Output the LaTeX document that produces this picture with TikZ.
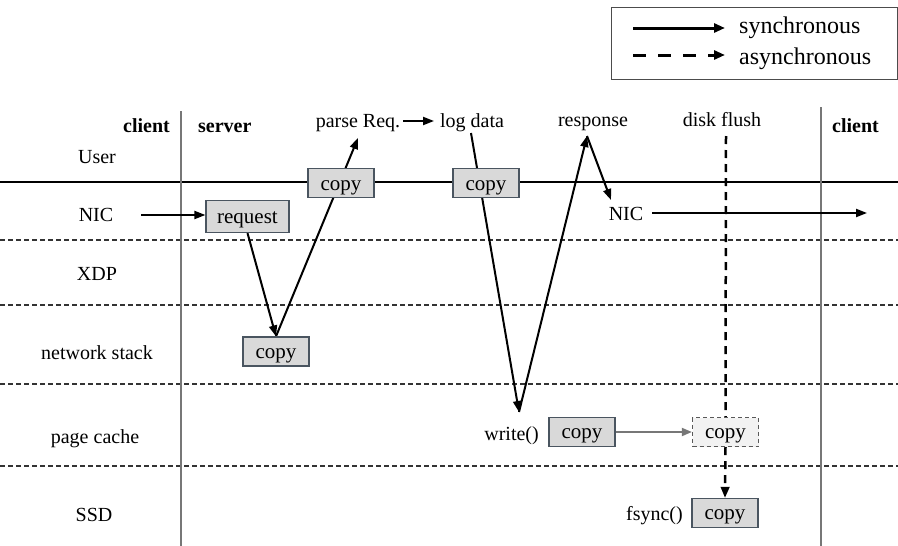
\documentclass[tikz,border=0pt]{standalone}
\usepackage{fontspec}
\setmainfont{Liberation Serif}
\usetikzlibrary{arrows.meta,backgrounds}

\definecolor{boxfill}{HTML}{D9D9D9}
\definecolor{boxedge}{HTML}{4A5560}
\definecolor{sepgray}{HTML}{777777}

\tikzset{
  lbl/.style={font=\fontsize{20}{24}\selectfont, inner sep=0pt, anchor=base},
  lblb/.style={lbl, font=\fontsize{20}{24}\selectfont\bfseries},
  legtext/.style={lbl, anchor=base west, font=\fontsize{24}{28}\selectfont},
  copybox/.style={draw=boxedge, line width=1.2pt, fill=boxfill, minimum width=66pt,
    minimum height=29pt, inner sep=0pt, text height=16pt, text depth=3pt,
    font=\fontsize{21}{25}\selectfont},
  tempbox/.style={copybox, draw=black!65, dash pattern=on 4pt off 3pt, fill=black!5},
  sync/.style={line width=2pt, -{Triangle[length=11pt,width=8pt]}},
  async/.style={line width=2.5pt, dash pattern=on 8pt off 6pt, -{Triangle[length=11pt,width=8.5pt]}},
  layersep/.style={line width=1.1pt, dash pattern=on 5pt off 3pt, black!80},
  colsep/.style={line width=2pt, sepgray},
}

\begin{document}
\begin{tikzpicture}[x=1pt,y=-1pt]
\useasboundingbox (0,0) rectangle (898,546);

% legend
\node[draw=black!70, line width=1pt, minimum width=286pt, minimum height=72pt, inner sep=0pt] (legend) at (754,43) {};
\coordinate (ls1) at (633,28);
\coordinate (ls2) at (725,28);
\coordinate (la1) at (633,55);
\coordinate (la2) at (725,55);
\draw[line width=3pt, -{Triangle[length=11pt,width=9pt]}] (ls1) -- (ls2);
\draw[line width=3pt, dash pattern=on 13pt off 12pt, -{Triangle[length=11pt,width=9pt]}] (la1) -- (la2);
\node[legtext] (lsync) at (739,34) {synchronous};
\node[legtext] (lasync) at (739,64) {asynchronous};

% column headers
\node[lblb, anchor=base east] (cl1) at (170,132) {client};
\node[lblb, anchor=base west] (srv) at (198,132) {server};
\node[lblb, anchor=base west] (cl2) at (832,132) {client};

% row labels
\node[lbl] (rUser) at (97,163) {User};
\node[lbl] (rNIC) at (96,221) {NIC};
\node[lbl] (rXDP) at (97,280) {XDP};
\node[lbl] (rNet) at (97,359) {network stack};
\node[lbl] (rPage) at (95,443) {page cache};
\node[lbl] (rSSD) at (94,521) {SSD};

% event labels
\node[lbl] (parse) at (358,127) {parse Req.};
\node[lbl] (logd) at (472,127) {log data};
\node[lbl] (resp) at (593,126) {response};
\node[lbl] (flush) at (722,126) {disk flush};
\node[lbl] (nic2) at (626,220) {NIC};
\node[lbl, anchor=base east] (wr) at (539,440) {write()};
\node[lbl, anchor=base east] (fs) at (683,520) {fsync()};

% copy boxes
\node[copybox, text height=18pt] (ucopy1) at (341,183) {copy};
\node[copybox, text height=18pt] (ucopy2) at (486,183) {copy};
\node[copybox, minimum width=83pt, minimum height=32pt] (req) at (247.5,216.5) {request};
\node[copybox] (ncopy) at (276,351.5) {copy};
\node[copybox] (pcopy) at (582,432) {copy};
\node[tempbox] (tcopy) at (725.5,432) {copy};
\node[copybox] (scopy) at (725,513) {copy};

% connector end points
\coordinate (parseIn) at (358,138);
\coordinate (parseOut) at (403,121);
\coordinate (logIn) at (434,121);
\coordinate (logOut) at (471,133);
\coordinate (wrIn) at (519,412);
\coordinate (respTop) at (587,136);
\coordinate (nicIn) at (611,200);
\coordinate (nicSrc) at (141,215);
\coordinate (nicOut) at (652,213);
\coordinate (nicEnd) at (867,213);
\coordinate (flushTop) at (726,136);

\begin{pgfonlayer}{background}
  % layer boundaries
  \draw[line width=2pt] (0,182) -- (898,182);
  \foreach \yy in {240,305,384,466}
    \draw[layersep] (0,\yy) -- (898,\yy);
  % client/server separators
  \draw[colsep] (181,111) -- (181,546);
  \draw[colsep] (821,107) -- (821,546);

  % synchronous path
  \draw[sync] (nicSrc) -- (req.west |- nicSrc);
  \draw[sync] (req.south) -- (ncopy.north);
  \draw[sync] (ncopy.north) -- (parseIn);
  \draw[sync] (parseOut) -- (logIn);
  \draw[sync] (logOut) -- (wrIn);
  \draw[sync] (wrIn) -- (respTop);
  \draw[sync] (respTop) -- (nicIn);
  \draw[sync] (nicOut) -- (nicEnd);

  % asynchronous flush
  \draw[line width=2.5pt, dash pattern=on 8pt off 6pt] (flushTop) -- (tcopy.north);
  \draw[async] (tcopy.south) -- (scopy.north);
\end{pgfonlayer}

\draw[sepgray, line width=1.8pt, -{Triangle[length=10pt,width=8pt]}] (pcopy.east) -- (tcopy.west);
\end{tikzpicture}
\end{document}
